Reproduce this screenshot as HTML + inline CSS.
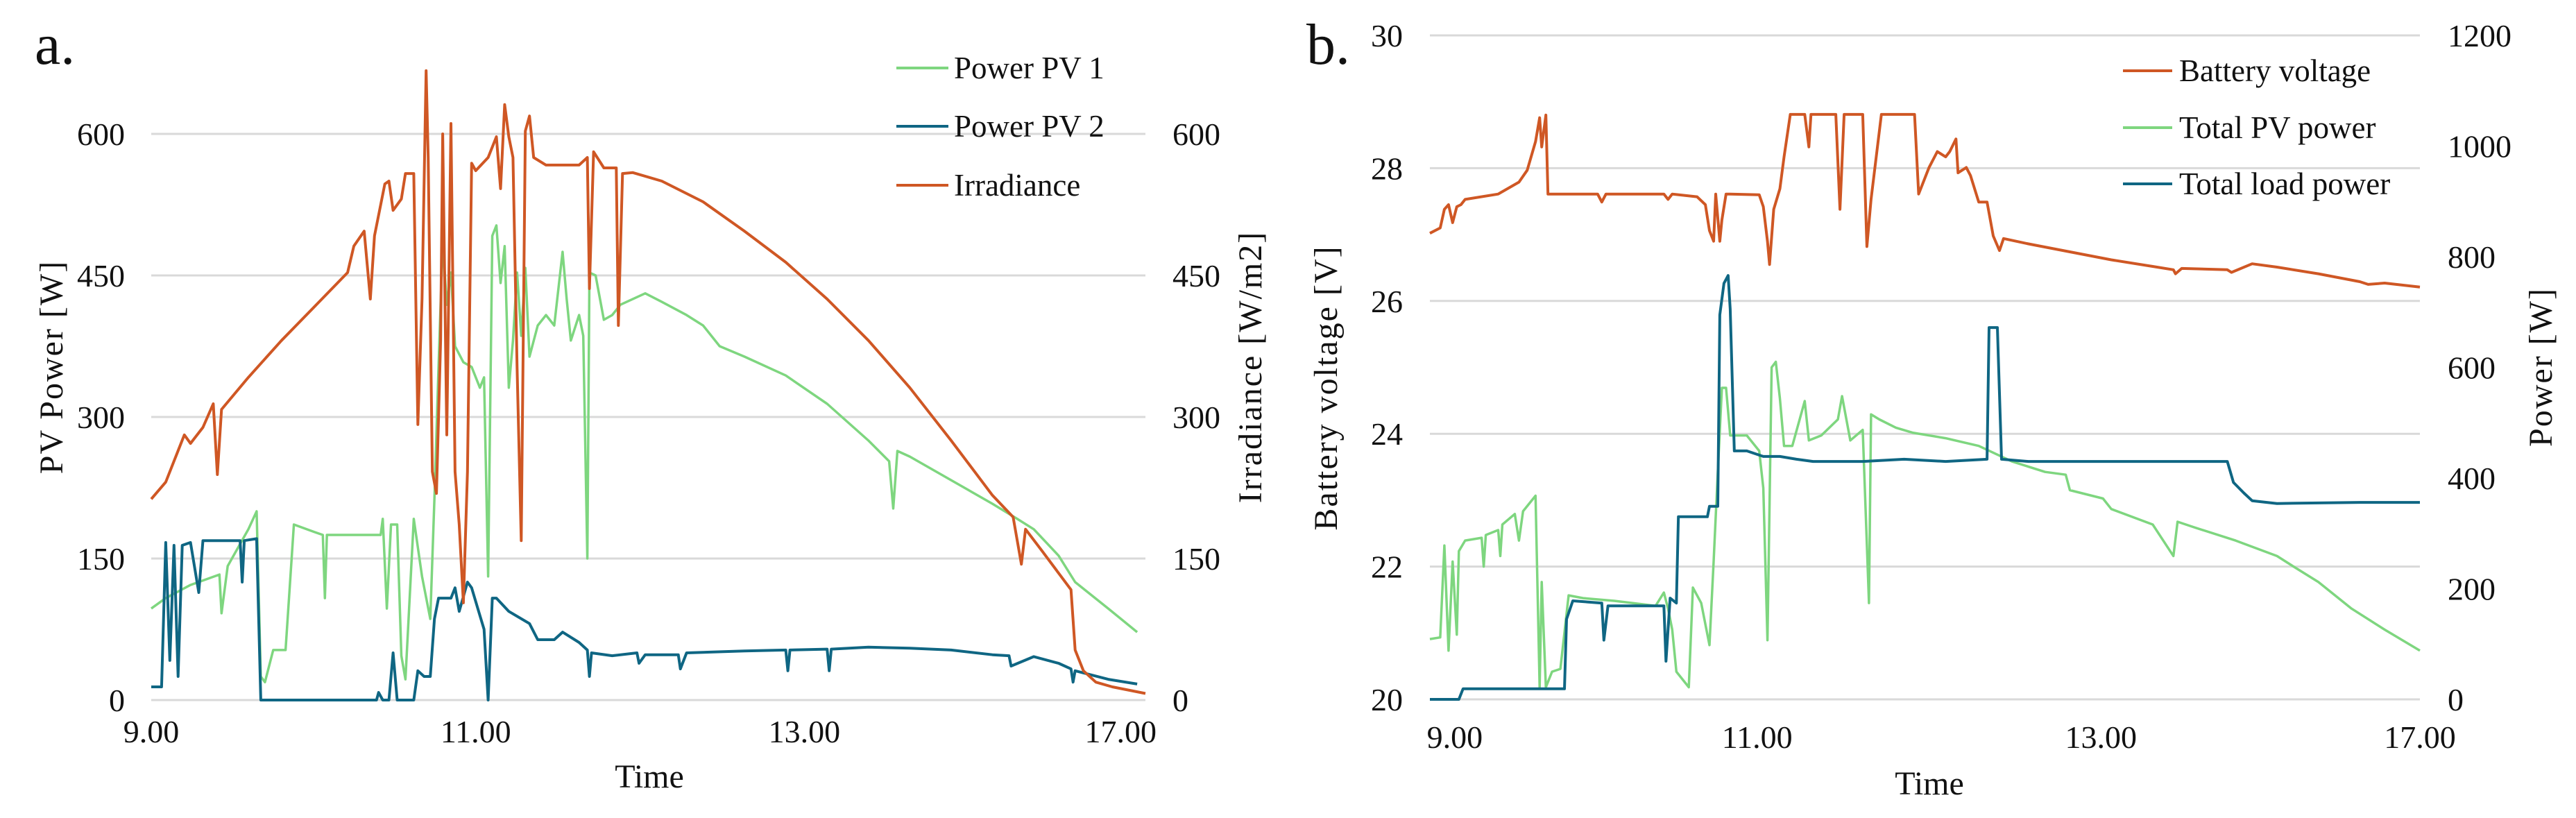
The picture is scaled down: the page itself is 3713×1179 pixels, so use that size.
<!DOCTYPE html>
<html><head><meta charset="utf-8"><style>
html,body{margin:0;padding:0;background:#fff}
svg{display:block}
text{font-family:"Liberation Serif",serif;fill:#111}
</style></head><body>
<svg id="chart" width="3713" height="1179" viewBox="0 0 3713 1179" xmlns="http://www.w3.org/2000/svg"></svg>
<script>
// ---- Panel a data (time in minutes after 9:00 on chart axis) ----
const irrT=[0,7,16,19,25,30,32,34,47,63,79,95,98,103,106,108,113,115,117,121,123,127,129,131,133,134,136,138,140,141,143,145,147,149,151,153,155,157,163,167,169,171,173,175,177,179,181,183,185,191,207,211,212,214,219,225,226,228,233,247,267,287,307,327,347,367,387,407,417,421,423,431,445,447,451,457,465,481];
const irrV=[213,231,281,272,289,314,239,308,342,381,417,453,481,497,425,492,547,550,519,531,558,558,292,425,667,575,242,219,381,600,281,611,242,186,103,242,569,561,575,597,542,631,597,575,353,169,603,619,575,567,567,575,436,581,564,564,397,558,559,550,528,497,464,425,381,331,275,217,194,144,181,158,117,53,31,19,14,7];
const pv1T=[0,7,19,33,34,37,47,51,53,55,59,65,69,79,83,84,85,95,111,112,114,116,119,121,123,127,131,135,137,139,141,143,145,147,151,155,159,161,163,165,167,169,171,173,175,177,179,181,183,187,191,195,199,201,203,207,209,211,212,215,219,223,227,239,247,259,267,275,287,307,327,347,357,359,361,367,387,407,419,427,439,447,463,477];
const pv1V=[97,108,122,133,92,142,181,200,25,19,53,53,186,178,175,108,175,175,175,192,97,186,186,47,22,192,131,86,214,353,486,419,453,375,358,353,331,342,131,492,503,442,481,331,381,453,386,458,364,397,408,397,475,425,381,408,386,150,453,450,403,408,419,431,422,408,397,375,364,344,314,275,253,203,264,258,233,208,192,181,153,125,97,72];
const pv2T=[0,5,7,9,11,13,15,19,23,25,43,44,45,51,53,109,110,112,115,117,119,127,129,132,135,137,139,145,147,149,153,155,158,161,163,165,167,173,183,187,195,199,207,211,212,213,223,235,236,239,255,256,259,287,307,308,309,327,328,329,347,367,387,407,415,416,427,439,445,446,447,463,477];
const pv2V=[14,14,167,42,164,25,164,167,114,169,169,125,169,171,0,0,8,0,0,50,0,0,31,25,25,86,108,108,119,94,125,119,97,75,0,108,108,94,81,64,64,72,61,53,25,50,47,50,39,48,48,33,50,52,53,31,53,54,31,54,56,55,53,48,47,36,46,39,33,19,31,22,17];
const aTickLabels=["9.00","11.00","13.00","17.00"];
const aTickTimes=[0,157,316,469];
const aYTicks=[0,150,300,450,600];

// ---- Panel b data ----
const batT=[0,5,7,9,11,13,15,17,33,43,47,51,53,54,56,57,81,83,85,113,115,117,129,133,135,137,138,140,141,143,145,159,161,163,164,166,169,171,174,181,183,184,196,198,200,209,211,213,218,234,236,241,245,249,251,254,255,259,261,265,269,272,275,277,289,309,329,349,359,360,363,385,387,397,409,429,449,453,461,478];
const batV=[27.02,27.10,27.38,27.45,27.18,27.42,27.45,27.53,27.61,27.79,27.97,28.40,28.76,28.32,28.80,27.61,27.61,27.49,27.61,27.61,27.53,27.61,27.57,27.45,27.06,26.90,27.61,26.90,27.22,27.61,27.61,27.60,27.42,26.90,26.55,27.38,27.69,28.17,28.81,28.81,28.32,28.81,28.81,27.38,28.81,28.81,26.82,27.53,28.81,28.81,27.61,28.01,28.25,28.17,28.25,28.44,27.93,28.01,27.89,27.49,27.49,26.98,26.76,26.94,26.86,26.74,26.62,26.52,26.47,26.41,26.49,26.47,26.43,26.56,26.51,26.41,26.29,26.25,26.27,26.21];
const pvT=[0,5,7,9,11,13,14,17,25,26,27,33,34,35,41,43,45,51,53,54,56,59,63,67,74,89,109,113,115,117,119,125,127,131,135,137,139,141,143,145,153,159,161,163,165,167,169,171,175,181,183,189,197,199,203,209,212,213,217,225,233,249,265,281,297,307,309,325,329,349,359,361,369,389,409,417,429,445,461,478];
const pvV=[109,112,278,88,249,117,268,287,292,240,297,306,259,316,335,287,340,368,22,212,22,50,55,188,183,178,169,193,164,126,50,22,202,174,98,249,411,563,563,477,477,449,382,107,600,610,544,458,458,539,468,477,506,548,468,487,174,515,506,491,482,472,458,430,411,406,378,363,344,316,259,321,311,287,259,240,212,164,126,88];
const loadT=[0,14,16,65,66,69,83,84,86,113,114,116,119,120,134,135,139,140,142,144,145,147,153,161,169,177,185,193,209,229,249,269,270,274,276,289,329,369,385,388,393,397,409,449,478];
const loadV=[0,0,19,19,145,178,174,107,169,169,69,183,174,330,330,349,349,695,752,766,705,449,449,439,439,434,430,430,430,434,430,434,672,672,434,430,430,430,430,392,373,359,354,356,356];
const bTickLabels=["9.00","11.00","13.00","17.00"];
const bTickTimes=[12,158,324,478];
const bVTicks=[20,22,24,26,28,30];
const bPTicks=[0,200,400,600,800,1000,1200];

const NS="http://www.w3.org/2000/svg";
const svg=document.getElementById('chart');
function el(tag,attrs,parent){const e=document.createElementNS(NS,tag);for(const k in attrs)e.setAttribute(k,attrs[k]);(parent||svg).appendChild(e);return e;}
function txt(s,attrs,parent){const e=el('text',attrs,parent);e.textContent=s;return e;}

const axA={x:t=>218+t*(1651-218)/481,y:v=>1009-v*(1009-193)/600};
const axBx=t=>2061+t*(3488-2061)/478;
const axBv=v=>1008-(v-20)*(1008-51)/10;
const axBp=p=>1008-p*(1008-51)/1200;

function poly(T,V,fx,fy,color,name,w){
  let d=T.map((t,i)=>(i?'L':'M')+fx(t).toFixed(1)+' '+fy(V[i]).toFixed(1)).join(' ');
  const p=el('path',{d:d,fill:'none',stroke:color,'stroke-width':w||4,'stroke-linejoin':'round'});
  
  
}
const GREEN='#7ed67f',BLUE='#0f6683',ORANGE='#cf5724';

// ----- Panel a -----
const ga=el('g',{});


aYTicks.forEach(v=>{
  const g=el('line',{x1:218,x2:1651,y1:axA.y(v),y2:axA.y(v),stroke:'#d9d9d9','stroke-width':3},ga);
  
  
  const l=txt(String(v),{x:180,y:axA.y(v)+16,'font-size':46,'text-anchor':'end'},ga);
  
  
  const r=txt(String(v),{x:1690,y:axA.y(v)+16,'font-size':46},ga);
  
  
});
aTickLabels.forEach((s,i)=>{
  const l=txt(s,{x:axA.x(aTickTimes[i]),y:1070,'font-size':46,'text-anchor':'middle'},ga);
  
  
});
poly(pv1T,pv1V,axA.x,axA.y,GREEN,'series-power-pv1',3.5);
poly(pv2T,pv2V,axA.x,axA.y,BLUE,'series-power-pv2',4);
poly(irrT,irrV,axA.x,axA.y,ORANGE,'series-irradiance',4);
</script>
<svg style="position:absolute;left:0;top:0" width="3713" height="1179" viewBox="0 0 3713 1179">
  <text x="50" y="92" font-size="84" style="font-family:'Liberation Serif',serif">a.</text>
  <text x="936" y="1135" font-size="48" text-anchor="middle" style="font-family:'Liberation Serif',serif">Time</text>
  <text transform="translate(90,529) rotate(-90)" font-size="48" text-anchor="middle" style="font-family:'Liberation Serif',serif;letter-spacing:2px">PV Power [W]</text>
  <text transform="translate(1818,529) rotate(-90)" font-size="48" text-anchor="middle" style="font-family:'Liberation Serif',serif;letter-spacing:2px">Irradiance [W/m2]</text>
  <g font-size="45" style="font-family:'Liberation Serif',serif">
    <line x1="1292" x2="1367" y1="98" y2="98" stroke="#7ed67f" stroke-width="4"/>
    <text x="1375" y="113">Power PV 1</text>
    <line x1="1292" x2="1367" y1="182" y2="182" stroke="#0f6683" stroke-width="4"/>
    <text x="1375" y="197">Power PV 2</text>
    <line x1="1292" x2="1367" y1="267" y2="267" stroke="#cf5724" stroke-width="4"/>
    <text x="1375" y="282">Irradiance</text>
  </g>
  <text x="1883" y="92" font-size="84" style="font-family:'Liberation Serif',serif">b.</text>
  <text x="2781" y="1145" font-size="48" text-anchor="middle" style="font-family:'Liberation Serif',serif">Time</text>
  <text transform="translate(1927,559) rotate(-90)" font-size="48" text-anchor="middle" style="font-family:'Liberation Serif',serif;letter-spacing:2px">Battery voltage [V]</text>
  <text transform="translate(3678,529) rotate(-90)" font-size="48" text-anchor="middle" style="font-family:'Liberation Serif',serif;letter-spacing:2px">Power [W]</text>
  <g font-size="45" style="font-family:'Liberation Serif',serif">
    <line x1="3060" x2="3131" y1="102" y2="102" stroke="#cf5724" stroke-width="4"/>
    <text x="3141" y="117">Battery voltage</text>
    <line x1="3060" x2="3131" y1="184" y2="184" stroke="#7ed67f" stroke-width="4"/>
    <text x="3141" y="199">Total PV power</text>
    <line x1="3060" x2="3131" y1="265" y2="265" stroke="#0f6683" stroke-width="4"/>
    <text x="3141" y="280">Total load power</text>
  </g>
</svg>
<script>
// ----- Panel b -----
const gb=el('g',{});


bVTicks.forEach(v=>{
  const g=el('line',{x1:2061,x2:3488,y1:axBv(v),y2:axBv(v),stroke:'#d9d9d9','stroke-width':3},gb);
  
  
  const l=txt(String(v),{x:2022,y:axBv(v)+16,'font-size':46,'text-anchor':'end'},gb);
  
  
});
bPTicks.forEach(p=>{
  const r=txt(String(p),{x:3528,y:axBp(p)+16,'font-size':46},gb);
  
  
});
bTickLabels.forEach((s,i)=>{
  const l=txt(s,{x:axBx(bTickTimes[i]),y:1078,'font-size':46,'text-anchor':'middle'},gb);
  
  
});
poly(pvT,pvV,axBx,axBp,GREEN,'series-total-pv-power',3.5);
poly(loadT,loadV,axBx,axBp,BLUE,'series-total-load-power',4);
poly(batT,batV,axBx,axBv,ORANGE,'series-battery-voltage',4);
</script>
</body></html>
